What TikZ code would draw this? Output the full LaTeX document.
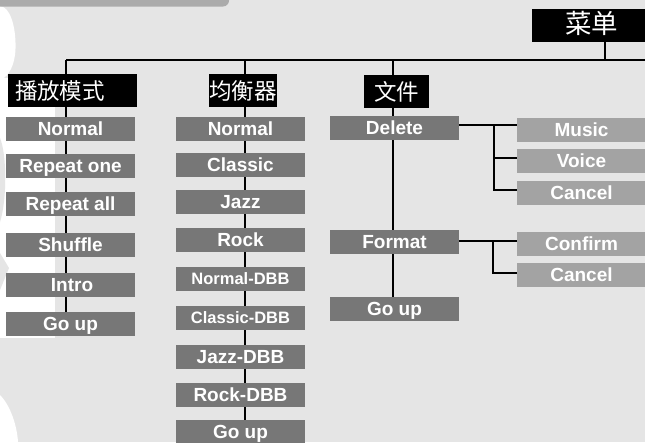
\documentclass[tikz,border=0pt]{standalone}
\usepackage{fontspec}
\setmainfont{Liberation Sans}
\newfontfamily\cjk{Noto Sans CJK SC}
\pgfdeclarelayer{deco}
\pgfdeclarelayer{wires}
\pgfsetlayers{deco,wires,main}
\definecolor{bgc}{HTML}{E5E5E5}
\definecolor{dk}{HTML}{777777}
\definecolor{lt}{HTML}{A3A3A3}
\definecolor{band}{HTML}{ABABAB}
\begin{document}
\begin{tikzpicture}[x=1pt,y=-1pt,
  item/.style={fill=dk,text=white,font=\fontsize{19}{19}\selectfont\bfseries,
    minimum width=129pt,minimum height=24pt,inner sep=0pt,text height=13.4pt,text depth=0pt},
  narrow/.style={font=\fontsize{16.5}{16.5}\selectfont\bfseries,text height=11.8pt},
  sub/.style={item,fill=lt},
  head/.style={fill=black,text=white,font=\cjk\fontsize{22.5}{22.5}\selectfont,
    inner sep=0pt,text height=17pt,text depth=0pt,minimum height=33pt},
  wire/.style={line width=1.5pt,black}]
\useasboundingbox (0,0) rectangle (645,442);
\begin{pgfonlayer}{deco}
  \fill[bgc] (0,0) rectangle (645,442);
  \fill[white] (0,6) .. controls (14,8) and (17,40) .. (15,55) .. controls (13,70) and (6,78) .. (0,80) -- cycle;
  \fill[white] (0,78) rectangle (55,338);
  \fill[bgc] (0,138) .. controls (7,155) and (7,200) .. (0,222) -- cycle;
  \fill[bgc] (0,253) -- (9,268) -- (0,290) -- cycle;
  \fill[white] (0,395) .. controls (10,405) and (17,425) .. (18,442) -- (0,442) -- cycle;
  \fill[band,rounded corners=6pt] (-12,-12) rectangle (229,6.5);
\end{pgfonlayer}

% headers
\node[head,minimum width=119pt] (menu) at (591.5,25) {\fontsize{26.5}{26.5}\selectfont 菜单};
\node[head,text width=115pt,inner xsep=7pt,align=left] (play) at (72.5,90.5) {播放模式};
\node[head,minimum width=68pt] (eq) at (243,90.5) {均衡器};
\node[head,minimum width=65pt] (file) at (396.5,91.5) {文件};

% left column
\node[item] (l1) at (70.5,129) {Normal};
\node[item] (l2) at (70.5,166) {Repeat one};
\node[item] (l3) at (70.5,203.5) {Repeat all};
\node[item] (l4) at (70.5,245) {Shuffle};
\node[item] (l5) at (70.5,285) {\hspace*{3pt}Intro};
\node[item] (l6) at (70.5,324) {Go up};

% middle column
\node[item] (m1) at (240.5,129) {Normal};
\node[item] (m2) at (240.5,165) {Classic};
\node[item] (m3) at (240.5,202) {Jazz};
\node[item] (m4) at (240.5,240) {Rock};
\node[item,narrow] (m5) at (240.5,279) {Normal-DBB};
\node[item,narrow] (m6) at (240.5,318) {Classic-DBB};
\node[item] (m7) at (240.5,357) {Jazz-DBB};
\node[item] (m8) at (240.5,395) {Rock-DBB};
\node[item] (m9) at (240.5,432) {Go up};

% right column
\node[item] (del) at (394.5,128) {Delete};
\node[item] (fmt) at (394.5,242) {Format};
\node[item] (fgo) at (394.5,309) {Go up};

% sub items
\node[sub] (mus) at (581.5,130) {Music};
\node[sub] (voi) at (581.5,161) {Voice};
\node[sub] (can1) at (581.5,192.5) {Cancel};
\node[sub] (con) at (581.5,244) {Confirm};
\node[sub] (can2) at (581.5,275) {Cancel};

\begin{pgfonlayer}{wires}
  \coordinate (L) at (66,60);
  \coordinate (M) at (245,60);
  \coordinate (R) at (393,60);
  \coordinate (E) at (645,60);
  \coordinate (T) at (605,60);
  \draw[wire] (L) -- (E);
  \draw[wire] (menu.south -| T) -- (T);
  \draw[wire] (L) -- (L |- l6.north);
  \draw[wire] (M) -- (M |- m9.north);
  \draw[wire] (R) -- (R |- fgo.north);
  \coordinate (dJ) at (494,125);
  \coordinate (fJ) at (493,241);
  \draw[wire] (del.east |- dJ) -- (mus.west |- dJ);
  \draw[wire] (dJ) |- ([yshift=3pt]voi.west);
  \draw[wire] (dJ) |- ([yshift=2.5pt]can1.west);
  \draw[wire] (fmt.east |- fJ) -- (con.west |- fJ);
  \draw[wire] (fJ) |- ([yshift=2pt]can2.west);
\end{pgfonlayer}
\end{tikzpicture}
\end{document}
